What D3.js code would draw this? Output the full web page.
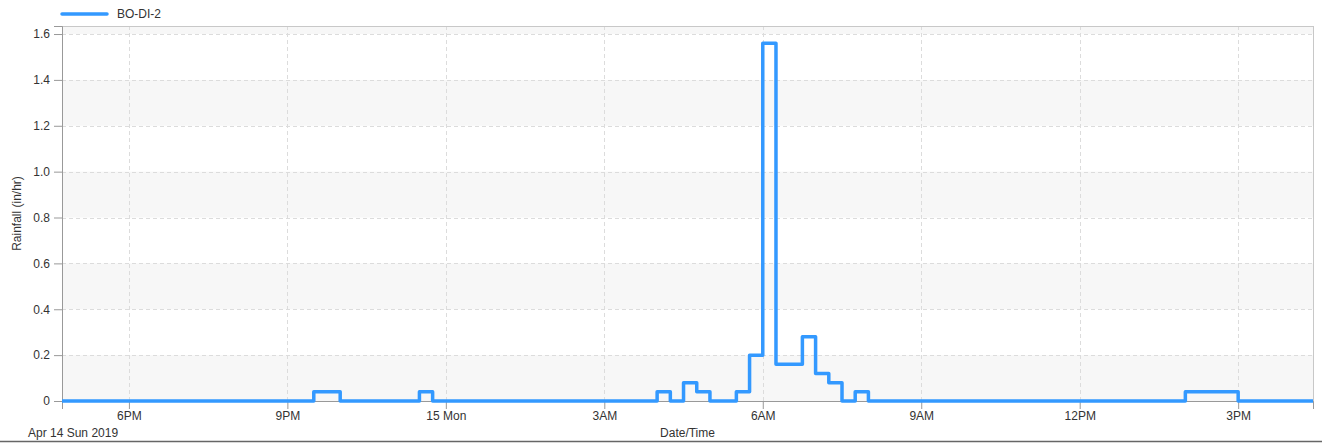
<!DOCTYPE html>
<html>
<head>
<meta charset="utf-8">
<script src="https://cdn.jsdelivr.net/npm/d3@7"></script>
<style>
  body { margin: 0; background: #fff; }
  text { font-family: "Liberation Sans", Arial, sans-serif; fill: #333; }
</style>
</head>
<body>
<div id="rain"></div>
<script>
// #####################################################
// Data (in/hr, steps begin at each time)
//
var seriesName = "BO-DI-2";
var stepTimes = ["2019-04-14 16:44", "2019-04-14 21:30", "2019-04-14 22:00", "2019-04-14 23:30",
                 "2019-04-14 23:45", "2019-04-15 04:00", "2019-04-15 04:15", "2019-04-15 04:30",
                 "2019-04-15 04:45", "2019-04-15 05:00", "2019-04-15 05:30", "2019-04-15 05:45",
                 "2019-04-15 06:00", "2019-04-15 06:15", "2019-04-15 06:45", "2019-04-15 07:00",
                 "2019-04-15 07:15", "2019-04-15 07:30", "2019-04-15 07:45", "2019-04-15 08:00",
                 "2019-04-15 14:00", "2019-04-15 15:00", "2019-04-15 16:25"];
var rainfall = [0, 0.04, 0, 0.04,
                0, 0.04, 0, 0.08,
                0.04, 0, 0.04, 0.2,
                1.56, 0.16, 0.28, 0.12,
                0.08, 0, 0.04, 0,
                0.04, 0, 0];
var xDomain = ["2019-04-14 16:44", "2019-04-15 16:25"];
var xTickTimes = ["2019-04-14 18:00", "2019-04-14 21:00", "2019-04-15 00:00", "2019-04-15 03:00",
                  "2019-04-15 06:00", "2019-04-15 09:00", "2019-04-15 12:00", "2019-04-15 15:00"];
var xTickLabels = ["6PM", "9PM", "15 Mon", "3AM", "6AM", "9AM", "12PM", "3PM"];
var yTicks = [0, 0.2, 0.4, 0.6, 0.8, 1.0, 1.2, 1.4, 1.6];
var startLabel = "Apr 14 Sun 2019";

var parseTime = d3.timeParse("%Y-%m-%d %H:%M");

// #####################################################
// Plot
//
function plot_rain () {
  var margin = {top: 26, right: 9, bottom: 42, left: 62},
      width = 1322 - margin.left - margin.right,
      height = 443 - margin.top - margin.bottom;

  var svg = d3.select("#rain").append("svg")
      .attr("width", 1322)
      .attr("height", 443);

  var g = svg.append("g")
      .attr("transform", "translate(" + margin.left + "," + margin.top + ")");

  var x = d3.scaleTime()
      .domain(xDomain.map(parseTime))
      .range([0, width]);
  var y = d3.scaleLinear()
      .domain([0, 1.635])
      .range([height, 0]);

  var data = stepTimes.map(function (t, i) { return {time: parseTime(t), value: rainfall[i]}; });
  var tickDates = xTickTimes.map(parseTime);

  // alternating bands
  var bands = [];
  for (var i = 0; i < yTicks.length; i += 2) {
    bands.push([yTicks[i], yTicks[i] + 0.2]);
  }
  g.selectAll("rect.band")
      .data(bands)
    .enter().append("rect")
      .attr("class", "band")
      .attr("x", 0)
      .attr("width", width)
      .attr("y", function (d) { return Math.max(0, y(d[1])); })
      .attr("height", function (d) { return y(d[0]) - Math.max(0, y(d[1])); })
      .style("fill", "#f7f7f7");

  // grid lines
  g.selectAll("line.hgrid")
      .data(yTicks.slice(1))
    .enter().append("line")
      .attr("x1", 0).attr("x2", width)
      .attr("y1", function (d) { return Math.round(y(d)) + 0.5; })
      .attr("y2", function (d) { return Math.round(y(d)) + 0.5; })
      .style("stroke", "#dcdcdc")
      .style("stroke-dasharray", "4,3");
  g.selectAll("line.vgrid")
      .data(tickDates)
    .enter().append("line")
      .attr("y1", 0).attr("y2", height)
      .attr("x1", function (d) { return Math.round(x(d)) + 0.5; })
      .attr("x2", function (d) { return Math.round(x(d)) + 0.5; })
      .style("stroke", "#dcdcdc")
      .style("stroke-dasharray", "4,3");

  // frame
  g.append("rect")
      .attr("x", 0.5).attr("y", 0.5)
      .attr("width", width).attr("height", height)
      .style("fill", "none")
      .style("stroke", "#c8c8c8");

  // X axis
  var xAxis = g.append("g")
      .attr("transform", "translate(0," + height + ")")
      .call(d3.axisBottom(x)
        .tickValues(tickDates)
        .tickSize(8)
        .tickPadding(2)
        .tickFormat(function (d, i) { return xTickLabels[i]; }));
  xAxis.select(".domain").style("stroke", "#999");
  xAxis.selectAll(".tick line").style("stroke", "#999");
  xAxis.selectAll("text").style("font-size", "12px").style("fill", "#333");

  // Y axis
  var yAxis = g.append("g")
      .call(d3.axisLeft(y)
        .tickValues(yTicks)
        .tickSize(8)
        .tickPadding(4)
        .tickFormat(function (d) { return d === 0 ? "0" : d3.format(".1f")(d); }));
  yAxis.select(".domain").style("stroke", "#999");
  yAxis.selectAll(".tick line").style("stroke", "#999");
  yAxis.selectAll("text").style("font-size", "12px").style("fill", "#333");

  // step line
  var line = d3.line()
      .curve(d3.curveStepAfter)
      .x(function (d) { return x(d.time); })
      .y(function (d) { return y(d.value); });

  g.append("path")
      .datum(data)
      .attr("d", line)
      .style("fill", "none")
      .style("stroke", "#3399ff")
      .style("stroke-width", 3.5)
      .style("stroke-linejoin", "round");

  // labels
  svg.append("text")
      .attr("transform", "rotate(-90)")
      .attr("x", -(margin.top + height / 2))
      .attr("y", 21)
      .style("text-anchor", "middle")
      .style("font-size", "12px")
      .text("Rainfall (in/hr)");

  svg.append("text")
      .attr("x", margin.left + width / 2)
      .attr("y", 437)
      .style("text-anchor", "middle")
      .style("font-size", "12px")
      .text("Date/Time");

  svg.append("text")
      .attr("x", 28)
      .attr("y", 437)
      .style("font-size", "12px")
      .text(startLabel);

  svg.append("line")
      .attr("x1", 0).attr("x2", 1322)
      .attr("y1", 441.5).attr("y2", 441.5)
      .style("stroke", "#666")
      .style("stroke-width", 1.5);

  // legend
  svg.append("line")
      .attr("x1", 62).attr("x2", 107)
      .attr("y1", 14).attr("y2", 14)
      .style("stroke", "#3399ff")
      .style("stroke-width", 3.5)
      .style("stroke-linecap", "round");
  svg.append("text")
      .attr("x", 117)
      .attr("y", 14)
      .attr("dy", "0.35em")
      .style("font-size", "12px")
      .text(seriesName);
};

plot_rain();
</script>
</body>
</html>
